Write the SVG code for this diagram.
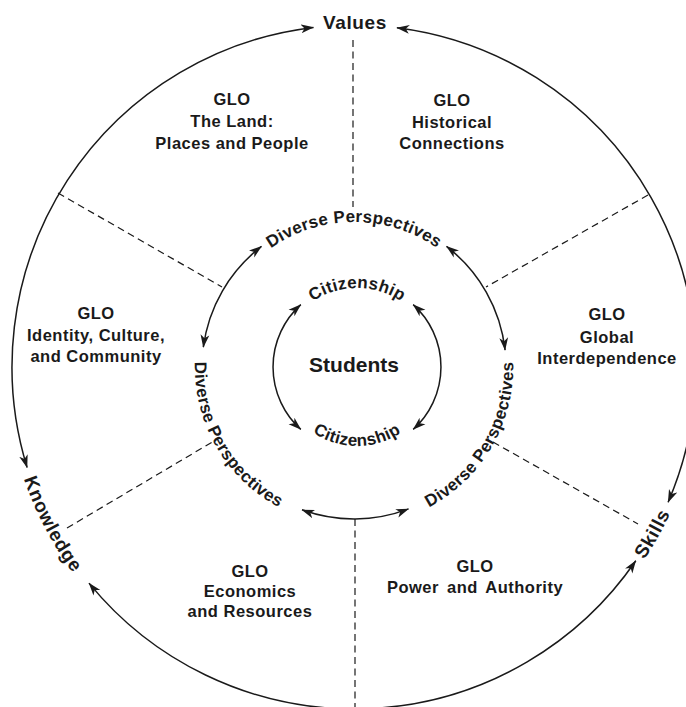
<svg xmlns="http://www.w3.org/2000/svg" width="686" height="707" viewBox="0 0 686 707">
<defs>
<style>
text{font-family:"Liberation Sans",Arial,Helvetica,sans-serif;font-weight:bold;fill:#1a1a1a}
.glo{font-size:16.5px;letter-spacing:0.5px;text-anchor:middle}
.ring{font-size:17px;letter-spacing:0.3px}
.outer{font-size:19px;letter-spacing:0.6px}
.arc{fill:none;stroke:#1a1a1a;stroke-width:1.5;marker-start:url(#ah);marker-end:url(#ah)}
.div{fill:none;stroke:#1a1a1a;stroke-width:1.2;stroke-dasharray:7 4.5}
</style>
<marker id="ah" viewBox="0 0 13 10" refX="12.5" refY="5" markerWidth="13" markerHeight="10" orient="auto-start-reverse" markerUnits="userSpaceOnUse">
<path d="M0,0.6 L13,5 L0,9.4 L3.5,5 Z" fill="#1a1a1a"/>
</marker>
<path id="pTopDP" d="M 209 367 A 145 145 0 0 1 499 367"/>
<path id="pLeftDP" d="M 262.8 236.7 A 159 159 0 0 0 421.2 511.1"/>
<path id="pRightDP" d="M 286.8 511.1 A 159 159 0 0 0 445.2 236.7"/>
<path id="pTopCit" d="M 278 367 A 79 79 0 0 1 436 367"/>
<path id="pBotCit" d="M 278 367 A 79 79 0 0 0 436 367"/>
<path id="pKnow" d="M 21.6 262.2 A 348.5 348.5 0 0 0 249.2 699.4"/>
<path id="pSkills" d="M 448.9 702.3 A 348.5 348.5 0 0 0 689.3 272.1"/>
</defs>
<rect width="686" height="707" fill="#ffffff"/>

<g id="connectors">
<path class="arc" d="M 313.5 27.4 A 342 342 0 0 0 27.1 467.5"/>
<path class="arc" d="M 396.9 27.7 A 342 342 0 0 1 668.1 502.3"/>
<path class="arc" d="M 89 583.1 A 342 342 0 0 0 635.8 560.7"/>
<path class="arc" d="M 261.5 246.4 A 152 152 0 0 0 203.3 347.2"/>
<path class="arc" d="M 446.5 246.4 A 152 152 0 0 1 505.1 350.1"/>
<path class="arc" d="M 302 509.8 A 152 152 0 0 0 408.5 508.9"/>
<path class="arc" d="M 300.8 304.6 A 84 84 0 0 0 300.8 429.4"/>
<path class="arc" d="M 413.2 304.6 A 84 84 0 0 1 413.2 429.4"/>
<line class="div" x1="353" y1="40" x2="353" y2="207"/>
<line class="div" x1="58" y1="193" x2="222" y2="287"/>
<line class="div" x1="648" y1="195" x2="486" y2="287"/>
<line class="div" x1="67" y1="528" x2="214" y2="441"/>
<line class="div" x1="493" y1="442" x2="638" y2="524"/>
<line class="div" x1="355" y1="519" x2="355" y2="707"/>
</g>

<g id="values"><text class="outer" x="355" y="29" text-anchor="middle">Values</text></g>
<g id="knowledge"><text class="outer"><textPath href="#pKnow" startOffset="50%" text-anchor="middle">Knowledge</textPath></text></g>
<g id="skills"><text class="outer"><textPath href="#pSkills" startOffset="50%" text-anchor="middle">Skills</textPath></text></g>

<g id="students"><text x="354" y="372" font-size="21" text-anchor="middle">Students</text></g>
<g id="citizenship-top"><text class="ring"><textPath href="#pTopCit" startOffset="50%" text-anchor="middle">Citizenship</textPath></text></g>
<g id="citizenship-bottom"><text class="ring"><textPath href="#pBotCit" startOffset="50%" text-anchor="middle">Citizenship</textPath></text></g>

<g id="dp-top"><text class="ring"><textPath href="#pTopDP" startOffset="50%" text-anchor="middle">Diverse Perspectives</textPath></text></g>
<g id="dp-left"><text class="ring"><textPath href="#pLeftDP" startOffset="50%" text-anchor="middle">Diverse Perspectives</textPath></text></g>
<g id="dp-right"><text class="ring"><textPath href="#pRightDP" startOffset="50%" text-anchor="middle">Diverse Perspectives</textPath></text></g>

<g id="glo-land"><text class="glo" x="232" y="105">GLO</text><text class="glo" x="232" y="127">The Land:</text><text class="glo" x="232" y="149">Places and People</text></g>
<g id="glo-historical"><text class="glo" x="452" y="106">GLO</text><text class="glo" x="452" y="128">Historical</text><text class="glo" x="452" y="149">Connections</text></g>
<g id="glo-identity"><text class="glo" x="96" y="319">GLO</text><text class="glo" x="96" y="341">Identity, Culture,</text><text class="glo" x="96" y="362">and Community</text></g>
<g id="glo-global"><text class="glo" x="607" y="320">GLO</text><text class="glo" x="607" y="343">Global</text><text class="glo" x="607" y="364">Interdependence</text></g>
<g id="glo-economics"><text class="glo" x="250" y="577">GLO</text><text class="glo" x="250" y="597">Economics</text><text class="glo" x="250" y="617">and Resources</text></g>
<g id="glo-power"><text class="glo" x="475" y="572">GLO</text><text class="glo" x="475" y="593" word-spacing="3">Power and Authority</text></g>
</svg>
